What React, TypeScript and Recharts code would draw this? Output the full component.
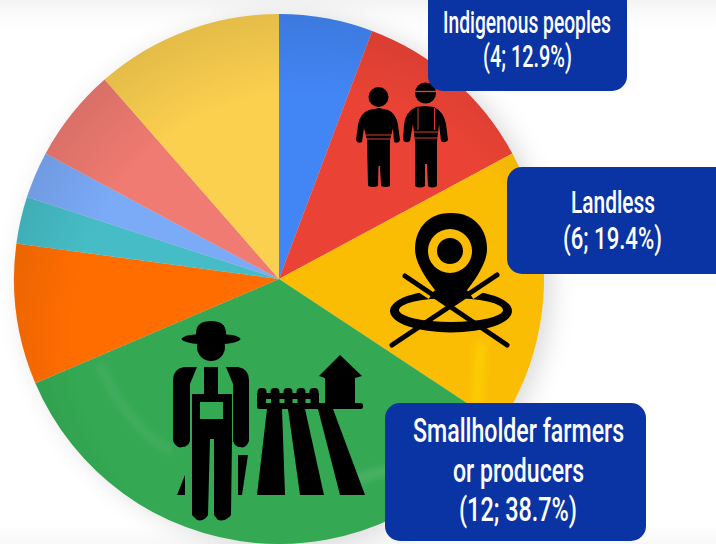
import React, { useLayoutEffect, useRef, useState } from "react";
import { PieChart, Pie, Cell } from "recharts";

const categories = [
  "Blue group",
  "Indigenous peoples",
  "Landless",
  "Smallholder farmers or producers",
  "Orange group",
  "Teal group",
  "Light blue group",
  "Pink group",
  "Light yellow group",
];
const values = [2, 4, 6, 12, 3, 1, 1, 2, 4];
const colors = ["#4285F4", "#EA4335", "#FBBC04", "#34A853", "#FF6D01", "#46BDC6", "#7BAAF7", "#F07B72", "#FCD04F"];
const chartData = categories.map((name, i) => ({ name, value: values[i] }));

const BOX = "#0A34A3";
const FONT = "Roboto, sans-serif";

const boxes = [
  { x: 428, y: -20, w: 199, h: 111 },
  { x: 507, y: 167, w: 230, h: 107 },
  { x: 385, y: 403, w: 261, h: 138 },
];
const labels = [
  { text: "Indigenous peoples", cx: 527, y: 33, w: 168, fs: 32 },
  { text: "(4; 12.9%)", cx: 527.5, y: 67, w: 89, fs: 32 },
  { text: "Landless", cx: 613, y: 213, w: 84, fs: 32 },
  { text: "(6; 19.4%)", cx: 612.5, y: 249, w: 99, fs: 32 },
  { text: "Smallholder farmers", cx: 518.5, y: 442, w: 211, fs: 34 },
  { text: "or producers", cx: 518.5, y: 482, w: 131, fs: 34 },
  { text: "(12; 38.7%)", cx: 518, y: 521, w: 118, fs: 34 },
];

function Label({ text, cx, y, w, fs }: { text: string; cx: number; y: number; w: number; fs: number }) {
  const ref = useRef<SVGTextElement>(null);
  const [sx, setSx] = useState(0.6);
  useLayoutEffect(() => {
    if (ref.current) setSx(w / ref.current.getComputedTextLength());
  }, [w]);
  return (
    <text
      ref={ref}
      transform={`translate(${cx - w / 2},${y}) scale(${sx},1)`}
      fontFamily={FONT}
      fontWeight={500}
      fontSize={fs}
      fill="#fff"
    >
      {text}
    </text>
  );
}

function Icons() {
  return (
    <g>
      {/* people */}
      <circle cx={378.5} cy={97} r={10} fill="#000" />
      <path d="M369,110 Q360,113 358,125 L356,140 Q357,144 362,142 L364,128 L367,140 L368,186 Q373,188 378,186 L378.5,166 L380,166 L381,186 Q386,188 390,186 L390,140 L393,128 L394,142 Q399,144 400,140 L398,125 Q396,113 388,110 L379,108 Z" fill="#000" />
      <path d="M366,135 H392 M366,139 H392" stroke="#EA4335" strokeWidth={0.9} />
      <circle cx={425.5} cy={93} r={10.5} fill="#000" />
      <path d="M415,91.5 H436" stroke="#EA4335" strokeWidth={1.3} />
      <path d="M416,107 Q405,112 404,125 L403,140 Q406,144 410,141 L413,124 L415,142 L415,186 Q420,189 425,186 L425,164 L427,164 L428,186 Q432,189 437,186 L437,142 L439,124 L441,141 Q445,144 448,140 L446,124 Q444,112 434,107 L425,106 Z" fill="#000" />
      <path d="M418,108 V130 M434.5,108 V130 M414,132 H438 M414,138 H438" stroke="#EA4335" strokeWidth={0.9} fill="none" />

      {/* location pin */}
      <path
        d="M390,311 A61,21.5 0 1 0 512,311 A61,21.5 0 1 0 390,311 Z M399,310 A52,12 0 1 1 503,310 A52,12 0 1 1 399,310 Z"
        fillRule="evenodd"
        fill="#000"
      />
      <path d="M408,278 L432,294 M494,278 L470,294" stroke="#FBBC04" strokeWidth={12} />
      <path d="M392,345 L497,275 M507,345 L405,276" stroke="#000" strokeWidth={5} strokeLinecap="round" />
      <path d="M451,213 C425,213 415,232 415,249 C415,266 433,290 451,308 C469,290 487,266 487,249 C487,232 477,213 451,213 Z" fill="#000" />
      <circle cx={450} cy={251} r={22} fill="#FBBC04" />
      <circle cx={450} cy={251} r={13} fill="#000" />

      {/* farmer */}
      <circle cx={211} cy={347} r={14} fill="#000" />
      <path d="M196,342 V332 Q197,321 211,321 Q225,321 226,332 V342 Z" fill="#000" />
      <ellipse cx={211} cy={339} rx={29.5} ry={5.5} fill="#000" />
      <path d="M184,367 Q173,369 173,380 V441 Q177,449 182,447 Q188,447 190,441 V384 L197,367 Z" fill="#000" />
      <path d="M238,367 Q249,369 249,380 V441 Q246,449 240,447 Q235,447 233,441 V384 L226,367 Z" fill="#000" />
      <rect x={204} y={367} width={14} height={30} fill="#000" />
      <path d="M192,394 H232 V439 L231,515 Q226,522 218,520 L214,515 V439 H210 L208,515 Q204,522 197,520 L192,515 Z" fill="#000" />
      <rect x={200} y={402} width={23} height={17} fill="#34A853" />
      <path d="M185,475 L177,495 H185 Z M238,455 H248 L242,495 H238 Z" fill="#000" />

      {/* fields */}
      <path d="M267,409 H282 L285,495 H257 Z" fill="#000" />
      <path d="M288,409 H305 L324,495 H300 Z" fill="#000" />
      <path d="M318,409 H333 L365,495 H340 Z" fill="#000" />
      {/* fence */}
      {[262, 275, 288, 301, 314].map((x) => (
        <rect key={x} x={x - 4.5} y={388} width={9} height={18} rx={4} fill="#000" />
      ))}
      <rect x={257} y={393} width={62} height={12} fill="#000" />
      {[268.5, 282, 295, 308].map((x) => (
        <rect key={x} x={x - 2.5} y={399} width={5} height={4} fill="#34A853" />
      ))}
      {/* barn */}
      <path d="M340,355 L362,376 L355,378 V404 H325 V378 L319,376 Z" fill="#000" />
      <rect x={257} y={403} width={106} height={6} rx={2.5} fill="#000" />
    </g>
  );
}

export default function App() {
  return (
    <div
      style={{
        position: "absolute",
        left: 0,
        top: 0,
        width: 716,
        height: 544,
        overflow: "hidden",
        background:
          "linear-gradient(to bottom, #f3f3f3 0px, #fbfbfb 14px, #ffffff 30px, #ffffff 525px, #f8f8f8 544px)",
      }}
    >
      <div style={{ position: "absolute", left: 0, top: 0, filter: "drop-shadow(8px 3px 12px rgba(0,0,0,0.14))" }}>
        <PieChart width={716} height={544} margin={{ top: 0, right: 0, bottom: 0, left: 0 }}>
          <Pie
            data={chartData}
            dataKey="value"
            nameKey="name"
            cx={279}
            cy={279}
            innerRadius={0}
            outerRadius={265}
            startAngle={90}
            endAngle={-270}
            paddingAngle={0}
            stroke="none"
            isAnimationActive={false}
          >
            {chartData.map((d, i) => (
              <Cell key={d.name} fill={colors[i]} />
            ))}
          </Pie>
        </PieChart>
      </div>
      <svg width={716} height={544} style={{ position: "absolute", left: 0, top: 0 }}>
        <defs>
          <radialGradient id="rim" cx="0.56" cy="0.6" r="0.62">
            <stop offset="0.72" stopColor="#000" stopOpacity={0} />
            <stop offset="1" stopColor="#000" stopOpacity={0.1} />
          </radialGradient>
          <filter id="soft" x="-50%" y="-50%" width="200%" height="200%">
            <feGaussianBlur stdDeviation="4" />
          </filter>
          <clipPath id="disc">
            <circle cx={279} cy={279} r={265} />
          </clipPath>
        </defs>
        <circle cx={279} cy={279} r={265} fill="url(#rim)" />
        <g clipPath="url(#disc)" filter="url(#soft)" fill="none" strokeLinecap="round">
          <path d="M100,365 Q130,430 170,450" stroke="#fff" strokeOpacity={0.1} strokeWidth={6} />
          <path d="M345,482 L395,468" stroke="#fff" strokeOpacity={0.16} strokeWidth={7} />
          <path d="M481,345 L477,402" stroke="#FFE600" strokeOpacity={0.5} strokeWidth={9} />
        </g>
        <Icons />
        {boxes.map((b, i) => (
          <rect key={i} x={b.x} y={b.y} width={b.w} height={b.h} rx={15} fill={BOX} />
        ))}
        {labels.map((l) => (
          <Label key={l.text} {...l} />
        ))}
      </svg>
    </div>
  );
}
